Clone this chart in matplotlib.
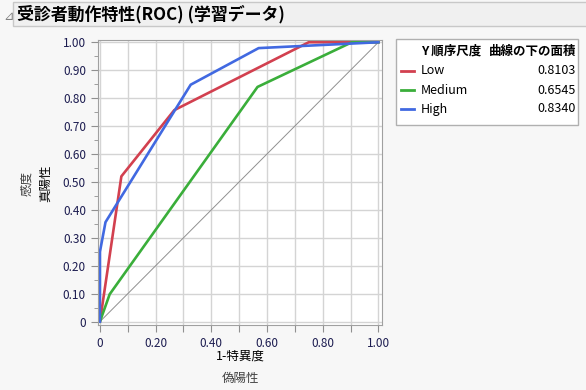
import numpy as np
import matplotlib.pyplot as plt
from matplotlib.patches import Rectangle
from matplotlib.lines import Line2D

plt.rcParams['font.family'] = ['Noto Sans CJK JP', 'DejaVu Sans']

# -----------------------------
# DATOS
# -----------------------------
low_x = [0, 0.077, 0.267, 0.75, 1.0]
low_y = [0, 0.52, 0.757, 1.0, 1.0]

med_x = [0, 0.035, 0.566, 0.905, 1.0]
med_y = [0, 0.098, 0.84, 1.0, 1.0]

high_x = [0, 0.0, 0.02, 0.326, 0.57, 1.0]
high_y = [0, 0.25, 0.356, 0.848, 0.979, 1.0]

nombres = ["Low", "Medium", "High"]
areas = ["0.8103", "0.6545", "0.8340"]
colores = ["#d2404f", "#3aae3a", "#4169e1"]

fondo = "#f7f7f7"
txt_color = "#1c1c50"

# -----------------------------
# FIGURA
# -----------------------------
fig = plt.figure(figsize=(5.86, 3.90), dpi=100, facecolor=fondo)

# barra de titulo
fig.patches.append(Rectangle((13 / 586, 1 - 26 / 390), 1, 24 / 390,
                             transform=fig.transFigure, facecolor="#f0f0f0",
                             edgecolor="#c8c8c8", linewidth=1))
fig.text(3 / 586, 1 - 17 / 390, "⊿", fontsize=9, color="#808080",
         va="center", ha="left", family=['DejaVu Sans'])
fig.text(17 / 586, 1 - 14 / 390, "受診者動作特性(ROC) (学習データ)",
         fontsize=12.2, fontweight="bold", va="center", ha="left")

ax = fig.add_axes([97.7 / 586, 1 - 325 / 390, 284 / 586, 285 / 390])
ax.set_facecolor("white")
ax.set_xlim(-0.008, 1.012)
ax.set_ylim(-0.012, 1.008)

ax.set_xticks(np.arange(0, 1.01, 0.1))
ax.set_xticklabels(["0" if i == 0 else (f"{v:.2f}" if i % 2 == 0 else "")
                    for i, v in enumerate(np.arange(0, 1.01, 0.1))])
ax.set_yticks(np.arange(0, 1.01, 0.1))
ax.set_yticklabels(["0"] + [f"{v:.2f}" for v in np.arange(0.1, 1.01, 0.1)])
ax.set_yticks(np.arange(0.05, 1.0, 0.1), minor=True)
ax.tick_params(axis="both", which="both", colors="#909090",
               labelcolor=txt_color, labelsize=8.5, direction="out")
ax.tick_params(which="major", length=5)
ax.tick_params(which="minor", length=3)
ax.grid(True, color="#d4d4d4", linewidth=1)
ax.set_axisbelow(True)
for s in ax.spines.values():
    s.set_color("#a0a0a0")

ax.plot([0, 1], [0, 1], color="#909090", linewidth=0.7)
ax.plot(low_x, low_y, color=colores[0], linewidth=1.9)
ax.plot(med_x, med_y, color=colores[1], linewidth=1.9)
ax.plot(high_x, high_y, color=colores[2], linewidth=1.9)

# etiquetas de ejes
fig.text(240 / 586, 1 - 356 / 390, "1-特異度", fontsize=9, ha="center", va="center")
fig.text(240 / 586, 1 - 378 / 390, "偽陽性", fontsize=9, ha="center", va="center",
         color="#404040")
fig.text(27 / 586, 1 - 183 / 390, "感度", fontsize=9, rotation=90,
         ha="center", va="center", color="#404040")
fig.text(46 / 586, 1 - 183 / 390, "真陽性", fontsize=9, rotation=90,
         ha="center", va="center")

# -----------------------------
# LEYENDA
# -----------------------------
fig.patches.append(Rectangle((396 / 586, 1 - 125 / 390), 182 / 586, 86 / 390,
                             transform=fig.transFigure, facecolor="white",
                             edgecolor="#b0b0b0", linewidth=1))
fig.text(421 / 586, 1 - 51 / 390, "Y 順序尺度", fontsize=9, fontweight="bold",
         ha="left", va="center")
fig.text(576 / 586, 1 - 51 / 390, "曲線の下の面積", fontsize=9, fontweight="bold",
         ha="right", va="center")
for i, fila in enumerate([70.5, 90, 109]):
    yy = 1 - fila / 390
    fig.add_artist(Line2D([401 / 586, 414 / 586], [yy, yy], color=colores[i],
                          linewidth=2, transform=fig.transFigure))
    fig.text(421 / 586, yy, nombres[i], fontsize=9, ha="left", va="center")
    fig.text(576 / 586, yy, areas[i], fontsize=9, ha="right", va="center")

plt.savefig("out.png", dpi=100, facecolor=fondo)
